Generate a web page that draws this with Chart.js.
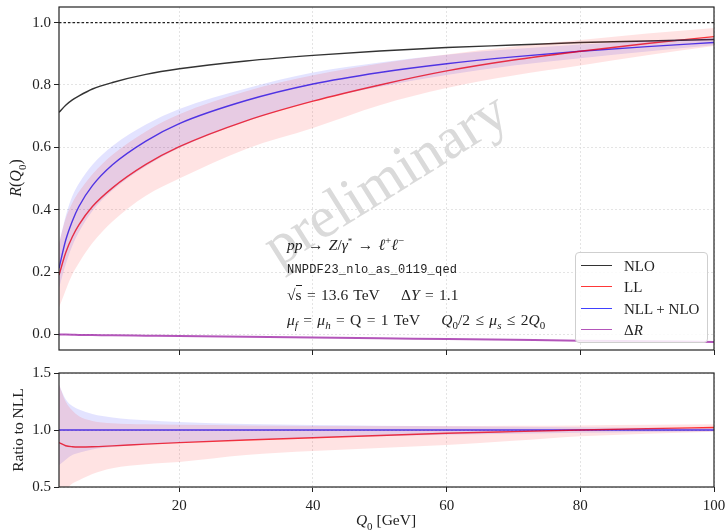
<!DOCTYPE html>
<html><head><meta charset="utf-8">
<script src="https://cdn.jsdelivr.net/npm/chart.js@4/dist/chart.umd.min.js"></script>
<style>
html,body{margin:0;padding:0;background:#fff;}
#wrap{position:relative;width:726px;height:532px;overflow:hidden;background:#fff;font-family:'Liberation Serif',serif;color:#222;}
canvas{position:absolute;left:0;}
.ov{position:absolute;white-space:nowrap;line-height:1;}
.ann{position:absolute;left:287px;white-space:nowrap;font-size:15.5px;line-height:16px;transform:translateY(-50%);word-spacing:1.5px;}
.ann sub,.ann sup{font-size:11px;line-height:0;}
.mono{font-family:'Liberation Mono',monospace;font-size:12px;letter-spacing:0.2px;word-spacing:0;}
#legend{position:absolute;left:575px;top:252px;width:131px;height:89px;border:1px solid #cfcfcf;border-radius:4px;background:rgba(255,255,255,0.85);}
.sw{position:absolute;left:5px;width:31px;height:0;border-top:1.6px solid;}
.lt{position:absolute;left:48px;font-size:15px;line-height:16px;transform:translateY(-50%);white-space:nowrap;}
#wm{position:absolute;left:385px;top:178px;transform:translate(-50%,-50%) rotate(-32deg);font-size:59px;color:#dadada;white-space:nowrap;line-height:1;}
</style></head>
<body><div id="wrap">
<div id="wm">preliminary</div>
<canvas id="ctop" width="726" height="360" style="top:0"></canvas>
<canvas id="cbot" width="726" height="172" style="top:360px"></canvas>

<div class="ov" style="left:18px;top:178px;transform:translate(-50%,-50%) rotate(-90deg);font-size:16px;"><i>R</i>(<i>Q</i><sub style="font-size:11px">0</sub>)</div>
<div class="ov" style="left:18px;top:430px;transform:translate(-50%,-50%) rotate(-90deg);font-size:15.5px;">Ratio to NLL</div>
<div class="ov" style="left:386px;top:522px;transform:translate(-50%,-50%);font-size:15.5px;"><i>Q</i><sub style="font-size:11px">0</sub> [GeV]</div>

<div class="ann" style="top:245px"><i>pp</i> → <i>Z</i>/<i>γ</i><sup style="font-size:9px">*</sup> → <i>ℓ</i><sup>+</sup><i>ℓ</i><sup>−</sup></div>
<div class="ann mono" style="top:270px">NNPDF23_nlo_as_0119_qed</div>
<div class="ann" style="top:295px">√<span style="border-top:1px solid #222">s</span> = 13.6 TeV &nbsp;&nbsp;&nbsp;Δ<i>Y</i> = 1.1</div>
<div class="ann" style="top:320px"><i>μ<sub>f</sub></i> = <i>μ<sub>h</sub></i> = Q = 1 TeV &nbsp;&nbsp;&nbsp;<i>Q</i><sub>0</sub>/2 ≤ <i>μ<sub>s</sub></i> ≤ 2<i>Q</i><sub>0</sub></div>

<div id="legend"></div>
</div>
<script>
// ---------- data ----------
const Q        = [2, 3, 4, 5, 7, 10, 15, 20, 30, 40, 50, 60, 70, 80, 90, 100];
const nlo      = [0.712,0.735,0.752,0.765,0.787,0.808,0.834,0.852,0.877,0.895,0.909,0.920,0.928,0.936,0.941,0.946];
const nllNlo   = [0.212,0.302,0.364,0.411,0.477,0.544,0.620,0.676,0.750,0.803,0.840,0.868,0.890,0.908,0.923,0.936];
const nllNloUp = [0.290,0.380,0.444,0.485,0.544,0.604,0.673,0.723,0.789,0.840,0.872,0.897,0.915,0.930,0.941,0.952];
const nllNloLo = [0.148,0.224,0.284,0.329,0.396,0.462,0.539,0.598,0.683,0.747,0.794,0.832,0.862,0.886,0.907,0.927];
const ll       = [0.190,0.262,0.313,0.352,0.410,0.470,0.545,0.602,0.685,0.748,0.800,0.845,0.880,0.908,0.933,0.955];
const llUp     = [0.293,0.372,0.422,0.458,0.514,0.576,0.651,0.706,0.780,0.831,0.869,0.898,0.923,0.944,0.965,0.983];
const llLo     = [0.086,0.142,0.193,0.230,0.293,0.362,0.445,0.500,0.595,0.662,0.735,0.790,0.830,0.862,0.895,0.925];
const deltaR   = [0.000,-0.0005,-0.001,-0.0015,-0.002,-0.003,-0.004,-0.005,-0.0075,-0.010,-0.0125,-0.015,-0.0175,-0.020,-0.022,-0.024];
const refLevel = [1.0, 1.0];

const ratioNll   = [1,1,1,1,1,1,1,1,1,1,1,1,1,1,1,1];
const ratioNllUp = [1.40,1.27,1.21,1.18,1.14,1.11,1.085,1.07,1.052,1.044,1.038,1.033,1.028,1.024,1.020,1.017];
const ratioNllLo = [0.69,0.74,0.78,0.80,0.83,0.85,0.87,0.885,0.91,0.93,0.945,0.958,0.968,0.976,0.983,0.990];
const ratioLl    = [0.890,0.862,0.853,0.851,0.853,0.861,0.876,0.889,0.912,0.932,0.952,0.971,0.986,1.000,1.012,1.022];
const ratioLlUp  = [1.40,1.25,1.17,1.12,1.08,1.06,1.05,1.045,1.04,1.035,1.035,1.035,1.037,1.04,1.045,1.05];
const ratioLlLo  = [0.40,0.47,0.53,0.56,0.615,0.665,0.70,0.72,0.78,0.815,0.843,0.868,0.905,0.945,0.968,0.985];

const xTicks     = [20, 40, 60, 80, 100];
const yTicksTop  = [0.0, 0.2, 0.4, 0.6, 0.8, 1.0];
const yTicksBot  = [0.5, 1.0, 1.5];
const seriesNames = ['NLO', 'LL', 'NLL + NLO', 'ΔR'];

// ---------- styles ----------
const C_NLO = '#333333', C_LL = 'rgba(255,0,0,0.78)', C_NLL = 'rgba(0,0,255,0.75)', C_DR = 'rgba(150,20,160,0.72)';
const F_LL = 'rgba(255,0,0,0.11)', F_NLL = 'rgba(0,0,255,0.11)';
const font = {family:"'Liberation Serif', serif", size:15};

const pts = arr => arr.map((v,i)=>({x:Q[i], y:v}));
const line = (arr,color,extra={}) => Object.assign({data:pts(arr), borderColor:color, borderWidth:1.4, pointRadius:0, fill:false, cubicInterpolationMode:'monotone'}, extra);
const bandUp = (arr,color) => ({data:pts(arr), borderWidth:0, borderColor:'transparent', backgroundColor:color, pointRadius:0, fill:'+1', cubicInterpolationMode:'monotone'});
const bandLo = (arr) => ({data:pts(arr), borderWidth:0, borderColor:'transparent', pointRadius:0, fill:false, cubicInterpolationMode:'monotone'});

const framePlugin = {id:'frame', afterDraw(chart){
  const a = chart.chartArea, c = chart.ctx;
  c.save(); c.strokeStyle='#222'; c.lineWidth=1.2;
  c.strokeRect(a.left, a.top, a.right-a.left, a.bottom-a.top); c.restore();
}};
const noPad = s => { s.paddingTop=0; s.paddingBottom=0; s.paddingLeft=0; s.paddingRight=0; };

function xScale(showLabels, h){
  return {type:'linear', min:Q[0], max:Q[Q.length-1],
    afterBuildTicks:s=>{s.ticks = xTicks.map(v=>({value:v}));},
    afterFit:s=>{s.height=h; noPad(s);},
    ticks:{display:showLabels, font, color:'#222', padding:5, maxRotation:0, callback:v=>String(v)},
    grid:{color:'#dedede', lineWidth:0.8, tickColor:'#222', tickLength:5, tickWidth:1},
    border:{display:false, dash:[2,2]}};
}
function yScale(min,max,ticks){
  return {type:'linear', min, max,
    afterBuildTicks:s=>{s.ticks = ticks.map(v=>({value:v}));},
    afterFit:s=>{s.width=59; noPad(s);},
    ticks:{font, color:'#222', padding:3, callback:v=>Number(v).toFixed(1)},
    grid:{color:'#dedede', lineWidth:0.8, tickColor:'#222', tickLength:5, tickWidth:1},
    border:{display:false, dash:[2,2]}};
}
const common = {responsive:false, animation:false, devicePixelRatio:1,
  plugins:{legend:{display:false}, tooltip:{enabled:false}}, events:[]};

new Chart(document.getElementById('ctop'), {
  type:'line',
  data:{datasets:[
    bandUp(llUp, F_LL), bandLo(llLo),
    bandUp(nllNloUp, F_NLL), bandLo(nllNloLo),
    {data:[{x:Q[0],y:refLevel[0]},{x:Q[Q.length-1],y:refLevel[1]}], borderColor:'#222', borderWidth:1.1, borderDash:[2.5,2], pointRadius:0, fill:false},
    line(nlo, C_NLO, {label:seriesNames[0]}),
    line(ll, C_LL, {label:seriesNames[1]}),
    line(nllNlo, C_NLL, {label:seriesNames[2]}),
    line(deltaR, C_DR, {label:seriesNames[3], borderWidth:2})
  ]},
  options:Object.assign({}, common, {
    layout:{padding:{left:0,right:12,top:7,bottom:0}},
    scales:{x:xScale(false,10), y:yScale(-0.05,1.05,yTicksTop)}
  }),
  plugins:[framePlugin]
});

new Chart(document.getElementById('cbot'), {
  type:'line',
  data:{datasets:[
    bandUp(ratioLlUp, F_LL), bandLo(ratioLlLo),
    bandUp(ratioNllUp, F_NLL), bandLo(ratioNllLo),
    line(ratioLl, C_LL),
    line(ratioNll, C_NLL)
  ]},
  options:Object.assign({}, common, {
    layout:{padding:{left:0,right:12,top:13,bottom:0}},
    scales:{x:xScale(true,45), y:yScale(0.5,1.5,yTicksBot)}
  }),
  plugins:[framePlugin]
});

// legend (HTML text, colours from the series)
const legendColors = [C_NLO, C_LL, C_NLL, C_DR];
const rowY = [13, 34, 55.5, 77];
const lg = document.getElementById('legend');
seriesNames.forEach((n,i)=>{
  const sw = document.createElement('div'); sw.className='sw'; sw.style.top=(rowY[i]-1)+'px'; sw.style.borderTopColor=legendColors[i];
  const t = document.createElement('div'); t.className='lt'; t.style.top=rowY[i]+'px';
  t.innerHTML = n==='ΔR' ? 'Δ<i>R</i>' : n;
  lg.appendChild(sw); lg.appendChild(t);
});
</script>
</body></html>
